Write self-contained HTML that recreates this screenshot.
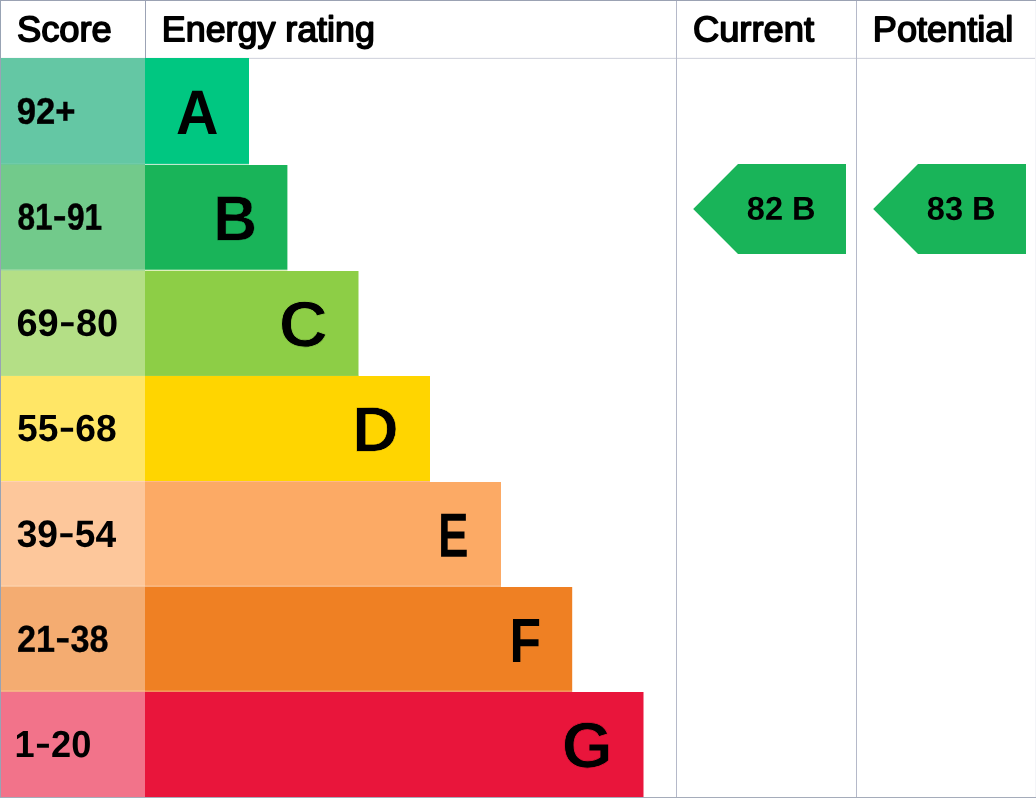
<!DOCTYPE html>
<html lang="en">
<head>
<meta charset="utf-8">
<title>Energy rating</title>
<style>
html,body{margin:0;padding:0;background:#fff;}
body{width:1036px;height:799px;overflow:hidden;}
svg{display:block;position:absolute;left:0;top:0;}
text{font-family:"Liberation Sans",Arial,Helvetica,sans-serif;fill:#000;text-rendering:geometricPrecision;}
.hd{font-weight:400;stroke:#000;stroke-width:1.6px;stroke-linejoin:round;}
.sc{font-weight:700;}
.lt{font-weight:700;}
.ar{font-weight:700;}
</style>
</head>
<body>
<svg width="1036" height="799" viewBox="0 0 1036 799" role="img" aria-label="Energy rating chart">
<rect x="0" y="0" width="1036" height="799" fill="#ffffff"/>
<!-- grid lines -->
<rect x="0" y="57.85" width="1036" height="1" fill="#cdd0da"/>
<rect x="145" y="0" width="1" height="58" fill="#9ca3b5"/>
<rect x="676" y="0" width="1" height="797" fill="#b5b9c9"/>
<rect x="856" y="0" width="1" height="797" fill="#b5b9c9"/>
<rect x="1035" y="1" width="1" height="796" fill="#f4f5f8"/>
<!-- thin separators between bands -->
<rect x="0" y="163.7" width="145" height="1.6" fill="#6bc897"/><rect x="145" y="163.7" width="104.0" height="1.6" fill="#bfe9cf"/>
<rect x="0" y="269.5" width="145" height="1.8" fill="#a6da97"/><rect x="145" y="269.5" width="142.4" height="1.8" fill="#def0bb"/>
<rect x="0" y="375.5" width="145" height="1.0" fill="#dbe277"/><rect x="145" y="375.5" width="213.5" height="1.0" fill="#c6d223"/>
<rect x="0" y="480.8" width="145" height="1.5" fill="#ffd2b2"/><rect x="145" y="480.8" width="285.0" height="1.5" fill="#fdb98a"/>
<rect x="0" y="585.6" width="145" height="1.6" fill="#f9c79c"/><rect x="145" y="585.6" width="356.0" height="1.6" fill="#f6b47d"/>
<rect x="0" y="690.6" width="145" height="1.6" fill="#f4ae85"/><rect x="145" y="690.6" width="427.2" height="1.6" fill="#f2935f"/>
<!-- band A -->
<rect x="0" y="58" width="145" height="105.9" fill="#64c7a4"/>
<rect x="145" y="58" width="104.0" height="105.9" fill="#00c781"/>
<!-- band B -->
<rect x="0" y="165" width="145" height="104.7" fill="#72ca8b"/>
<rect x="145" y="165" width="142.4" height="104.7" fill="#19b459"/>
<!-- band C -->
<rect x="0" y="271" width="145" height="104.9" fill="#b4df86"/>
<rect x="145" y="271" width="213.5" height="104.9" fill="#8dce46"/>
<!-- band D -->
<rect x="0" y="376" width="145" height="105.0" fill="#ffe666"/>
<rect x="145" y="376" width="285.0" height="105.0" fill="#ffd500"/>
<!-- band E -->
<rect x="0" y="482" width="145" height="103.8" fill="#fdc79b"/>
<rect x="145" y="482" width="356.0" height="103.8" fill="#fcaa65"/>
<!-- band F -->
<rect x="0" y="587" width="145" height="103.8" fill="#f4ac71"/>
<rect x="145" y="587" width="427.2" height="103.8" fill="#ef8023"/>
<!-- band G -->
<rect x="0" y="692" width="145" height="105.0" fill="#f2738a"/>
<rect x="145" y="692" width="498.5" height="105.0" fill="#e9153b"/>
<!-- outer border -->
<rect x="0" y="0" width="1036" height="1" fill="#9ba2b3"/>
<rect x="0" y="0" width="1" height="798" fill="#98a3b4"/>
<rect x="0" y="797" width="1036" height="1" fill="#a5acba"/>
<!-- rating arrows -->
<polygon points="693.2,209 738,164 846,164 846,254 738,254" fill="#19b459"/>
<polygon points="873.2,209 918,164 1026,164 1026,254 918,254" fill="#19b459"/>
<!-- labels -->
<text class="hd" font-size="35.70" transform="translate(16.97,41.20) rotate(0.05) scale(1.0173,1)">Score</text>
<text class="hd" font-size="35.70" transform="translate(161.83,41.20) rotate(0.05) scale(1.0037,1)">Energy rating</text>
<text class="hd" font-size="35.70" transform="translate(692.88,41.20) rotate(0.05) scale(1.0187,1)">Current</text>
<text class="hd" font-size="35.70" transform="translate(872.86,41.20) rotate(0.05) scale(1.0109,1)">Potential</text>
<text class="sc" stroke="#000" stroke-width="0.4" font-size="37.02" transform="translate(16.79,123.73) rotate(0.05) scale(0.9354,1)">92+</text>
<text class="sc" stroke="#000" stroke-width="0.5" font-size="37.16" transform="translate(17.50,229.58) rotate(0.05) scale(0.8494,1)">81<tspan font-weight="400" font-size="50.54" dy="2.04">-</tspan><tspan dy="-2.04">91</tspan></text>
<text class="sc" font-size="37.87" transform="translate(16.47,335.82) rotate(0.05) scale(1.0024,1)">69<tspan font-weight="400" font-size="51.51" dy="2.08">-</tspan><tspan dy="-2.08">80</tspan></text>
<text class="sc" font-size="37.73" transform="translate(17.08,441.02) rotate(0.05) scale(0.9862,1)">55<tspan font-weight="400" font-size="51.31" dy="2.08">-</tspan><tspan dy="-2.08">68</tspan></text>
<text class="sc" font-size="37.87" transform="translate(16.67,546.82) rotate(0.05) scale(0.9813,1)">39<tspan font-weight="400" font-size="51.51" dy="2.08">-</tspan><tspan dy="-2.08">54</tspan></text>
<text class="sc" stroke="#000" stroke-width="0.3" font-size="37.45" transform="translate(16.95,651.68) rotate(0.05) scale(0.9147,1)">21<tspan font-weight="400" font-size="50.93" dy="2.06">-</tspan><tspan dy="-2.06">38</tspan></text>
<text class="sc" font-size="37.73" transform="translate(14.55,757.02) rotate(0.05) scale(0.9602,1)">1<tspan font-weight="400" font-size="51.31" dy="2.08">-</tspan><tspan dy="-2.08">20</tspan></text>
<text class="lt" font-size="62.77" transform="translate(175.93,133.90) rotate(0.05) scale(0.9368,1)">A</text>
<text class="lt" stroke="#19b459" stroke-width="0.5" font-size="63.65" transform="translate(213.21,240.25) rotate(0.05) scale(0.9530,1)">B</text>
<text class="lt" stroke="#8dce46" stroke-width="0.8" font-size="64.82" transform="translate(278.78,346.55) rotate(0.05) scale(1.0481,1)">C</text>
<text class="lt" stroke="#ffd500" stroke-width="0.7" font-size="63.65" transform="translate(352.16,451.15) rotate(0.05) scale(1.0116,1)">D</text>
<text class="lt" font-size="62.48" transform="translate(437.92,556.80) rotate(0.05) scale(0.7337,1)">E</text>
<text class="lt" font-size="62.63" transform="translate(509.45,662.00) rotate(0.05) scale(0.8234,1)">F</text>
<text class="lt" stroke="#e9153b" stroke-width="0.8" font-size="64.68" transform="translate(561.78,767.45) rotate(0.05) scale(1.0124,1)">G</text>
<text class="ar" font-size="33.05" transform="translate(746.87,219.77) rotate(0.05) scale(0.9850,1)">82 B</text>
<text class="ar" font-size="33.05" transform="translate(926.87,219.77) rotate(0.05) scale(0.9850,1)">83 B</text>
</svg>
</body>
</html>
